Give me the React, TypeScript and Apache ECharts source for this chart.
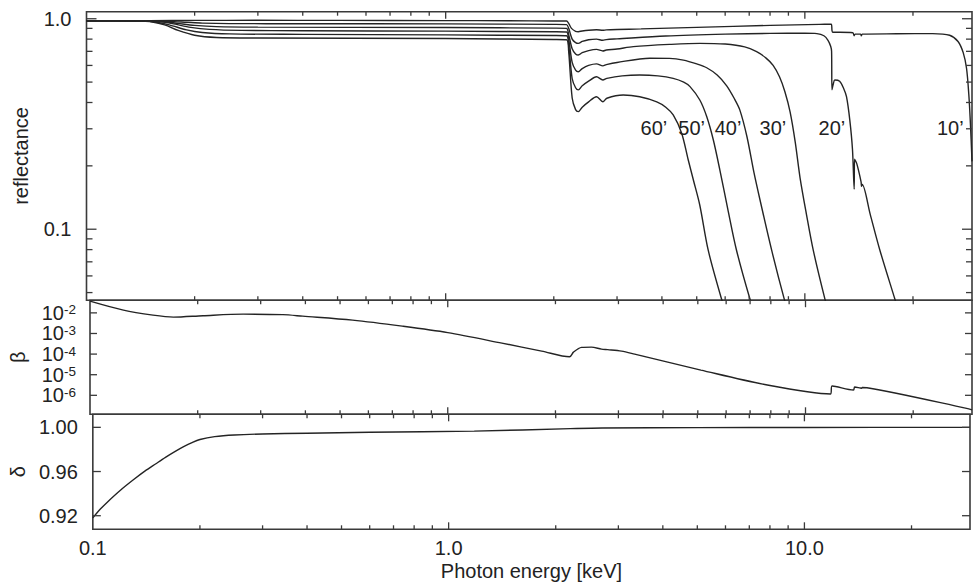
import React, { useEffect, useRef } from 'react';
import * as echarts from 'echarts';

const FONT = '"Liberation Sans", Arial, Helvetica, sans-serif';
const INK = '#222222';
const FRAME = '#3a3a3a';
const CURVE = '#242424';

// ---------- x axis (photon energy, keV) ----------
const xMin = 0.1;
const xMax = 29.2;
const xLabelValues = [0.1, 1, 10];
const xLabelTexts = ['0.1', '1.0', '10.0'];
const xMinorTicks = [0.2, 0.3, 0.4, 0.5, 0.6, 0.7, 0.8, 0.9, 2, 3, 4, 5, 6, 7, 8, 9, 20];
const xMajorTicks = [1, 10];

// ---------- reflectance panel ----------
const reflMin = 0.046;
const reflMax = 1.08;
const reflLabelValues = [0.1, 1];
const reflLabelTexts = ['0.1', '1.0'];
const reflMinorTicks = [0.05, 0.06, 0.07, 0.08, 0.09, 0.2, 0.3, 0.4, 0.5, 0.6, 0.7, 0.8, 0.9];
const reflMajorTicks = [0.1, 1];

const refl10 = [
  [0.1, 0.979], [0.15, 0.98], [0.2, 0.982], [0.3, 0.983], [0.5, 0.982], [1.0, 0.98], [1.5, 0.978],
  [2.0, 0.976], [2.17, 0.975], [2.2, 0.95], [2.24, 0.9], [2.3, 0.872], [2.34, 0.868], [2.4, 0.875],
  [2.5, 0.882], [2.63, 0.886], [2.74, 0.881], [2.8, 0.885], [3.0, 0.889], [3.5, 0.895], [5.0, 0.91],
  [8.0, 0.93], [11.0, 0.94], [11.85, 0.942], [11.9, 0.88], [11.95, 0.862], [12.5, 0.862], [13.6, 0.858],
  [13.72, 0.83], [13.8, 0.845], [14.3, 0.845], [14.36, 0.83], [14.45, 0.845], [18, 0.848], [22.7, 0.85],
  [25.3, 0.835], [26.7, 0.78], [27.6, 0.69], [28.2, 0.58], [28.6, 0.44], [28.9, 0.32], [29.2, 0.21],
];
const refl20 = [
  [0.1, 0.978], [0.15, 0.977], [0.17, 0.972], [0.19, 0.962], [0.21, 0.953], [0.25, 0.948], [0.4, 0.947],
  [1.0, 0.945], [2.0, 0.94], [2.17, 0.938], [2.2, 0.9], [2.25, 0.8], [2.3, 0.77], [2.34, 0.764], [2.4, 0.78],
  [2.5, 0.795], [2.63, 0.8], [2.74, 0.79], [2.8, 0.796], [3.0, 0.802], [4.1, 0.828], [6.0, 0.845], [8.0, 0.852],
  [10.0, 0.854], [10.8, 0.85], [11.3, 0.83], [11.6, 0.79], [11.8, 0.74], [11.87, 0.7], [11.9, 0.46], [12.0, 0.49],
  [12.12, 0.512], [12.5, 0.505], [12.8, 0.47], [13.06, 0.426], [13.34, 0.33], [13.57, 0.24], [13.72, 0.155],
  [13.75, 0.215], [13.95, 0.205], [14.34, 0.168], [14.38, 0.16], [14.45, 0.163], [15.2, 0.118], [16.17, 0.0797],
  [17.8, 0.0467], [18.3, 0.04],
];
const refl30 = [
  [0.1, 0.978], [0.15, 0.976], [0.165, 0.968], [0.18, 0.95], [0.2, 0.93], [0.23, 0.917], [0.3, 0.912],
  [1.0, 0.908], [2.0, 0.902], [2.17, 0.9], [2.2, 0.84], [2.25, 0.72], [2.3, 0.68], [2.34, 0.672], [2.4, 0.69],
  [2.5, 0.706], [2.63, 0.715], [2.74, 0.703], [2.8, 0.71], [3.0, 0.718], [3.33, 0.737], [4.2, 0.755], [5.1, 0.764],
  [6.0, 0.758], [6.8, 0.735], [7.34, 0.697], [7.8, 0.65], [8.16, 0.6], [8.5, 0.53], [8.8, 0.45], [9.1, 0.36],
  [9.4, 0.26], [9.7, 0.175], [10.1, 0.118], [10.55, 0.0797], [11.37, 0.0467], [11.6, 0.042],
];
const refl40 = [
  [0.1, 0.978], [0.15, 0.975], [0.16, 0.97], [0.175, 0.945], [0.195, 0.91], [0.22, 0.89], [0.27, 0.88],
  [0.4, 0.877], [1.0, 0.873], [2.0, 0.867], [2.17, 0.865], [2.2, 0.8], [2.25, 0.62], [2.3, 0.57], [2.34, 0.56],
  [2.4, 0.58], [2.5, 0.6], [2.63, 0.61], [2.74, 0.597], [2.8, 0.605], [3.0, 0.62], [3.7, 0.649], [4.2, 0.648],
  [4.59, 0.636], [5.0, 0.61], [5.33, 0.585], [5.7, 0.54], [6.06, 0.48], [6.35, 0.42], [6.59, 0.369], [6.9, 0.275],
  [7.22, 0.185], [7.5, 0.138], [8.08, 0.0797], [8.76, 0.0467], [8.95, 0.042],
];
const refl50 = [
  [0.1, 0.978], [0.145, 0.975], [0.155, 0.965], [0.17, 0.935], [0.19, 0.885], [0.21, 0.86], [0.25, 0.847],
  [0.4, 0.843], [1.0, 0.838], [2.0, 0.832], [2.17, 0.83], [2.2, 0.75], [2.25, 0.52], [2.3, 0.47], [2.34, 0.459],
  [2.4, 0.48], [2.5, 0.505], [2.63, 0.53], [2.74, 0.512], [2.81, 0.521], [3.1, 0.535], [3.47, 0.54], [3.9, 0.535],
  [4.3, 0.521], [4.6, 0.5], [4.79, 0.476], [5.1, 0.411], [5.33, 0.343], [5.56, 0.266], [5.8, 0.191], [6.1, 0.125],
  [6.45, 0.0797], [7.03, 0.0467], [7.2, 0.042],
];
const refl60 = [
  [0.1, 0.978], [0.14, 0.976], [0.15, 0.97], [0.165, 0.935], [0.18, 0.88], [0.2, 0.835], [0.23, 0.815],
  [0.3, 0.81], [1.0, 0.805], [2.0, 0.797], [2.17, 0.795], [2.2, 0.7], [2.25, 0.42], [2.3, 0.37], [2.34, 0.362],
  [2.4, 0.38], [2.5, 0.403], [2.63, 0.426], [2.74, 0.403], [2.81, 0.419], [3.12, 0.434], [3.47, 0.426],
  [3.87, 0.403], [4.1, 0.38], [4.3, 0.349], [4.54, 0.286], [4.73, 0.215], [4.9, 0.17], [5.1, 0.13],
  [5.38, 0.0797], [5.86, 0.0467], [6.0, 0.042],
];
const reflCurves = [refl10, refl20, refl30, refl40, refl50, refl60];
const curveLabels = ['10’', '20’', '30’', '40’', '50’', '60’'];
const curveLabelAnchors = [[25.4, 0.303], [11.89, 0.303], [8.15, 0.303], [6.11, 0.303], [4.84, 0.303], [3.8, 0.303]];

// ---------- beta panel ----------
const betaMin = 1.2e-7;
const betaMax = 0.0412;
const betaTickExponents = [-2, -3, -4, -5, -6];
const betaMajorTicks = [1e-2, 1e-3, 1e-4, 1e-5, 1e-6];
const betaValues = [
  [0.1, 0.0369], [0.124, 0.0135], [0.15, 0.00774], [0.171, 0.0062], [0.207, 0.0073], [0.268, 0.00865],
  [0.346, 0.00818], [0.393, 0.00692], [0.542, 0.00443], [0.746, 0.00227], [1.0, 0.0011], [1.417, 0.000341],
  [1.83, 0.00014], [2.19, 0.000074], [2.246, 0.000125], [2.366, 0.000211], [2.52, 0.000218], [2.69, 0.000175],
  [2.8, 0.000165], [3.06, 0.00014], [3.33, 0.0001], [5.1, 0.0000168], [7.82, 0.00000316], [11.74, 0.00000116],
  [11.87, 0.00000282], [13.62, 0.00000181], [13.72, 0.00000252], [14.23, 0.00000226], [14.35, 0.00000222],
  [14.41, 0.00000239], [14.85, 0.00000233], [28.2, 0.000000234], [29.2, 0.000000195],
];

// ---------- delta panel ----------
const deltaMin = 0.9077;
const deltaMax = 1.0118;
const deltaTickValues = [0.92, 0.96, 1.0];
const deltaValues = [
  [0.1, 0.918], [0.105, 0.926], [0.11, 0.9325], [0.12, 0.9435], [0.13, 0.9525], [0.14, 0.9603],
  [0.15, 0.9668], [0.16, 0.9728], [0.17, 0.978], [0.18, 0.9825], [0.19, 0.9862], [0.2, 0.989],
  [0.22, 0.9916], [0.25, 0.9931], [0.3, 0.994], [0.4, 0.9947], [0.6, 0.9955], [1.18, 0.9966],
  [2.2, 0.9988], [2.7, 0.9994], [5, 0.9997], [10, 0.9999], [29.2, 1.0],
];

// ---------- layout ----------
const GRID_LEFT = 86.5;
const GRID_RIGHT = 1;
const gridBoxes = [
  { top: 11.7, height: 288.5 },
  { top: 300.2, height: 114.1 },
  { top: 414.3, height: 115 },
];

const nearLog = (a: number, b: number) => Math.abs(Math.log10(a) - Math.log10(b)) < 1e-6;
const textStyle = { fontSize: 20, fontFamily: FONT, color: INK };

function tickSeries(
  gridIndex: number,
  yRef: number,
  yMinor: number[],
  yMajor: number[],
  lens: { xMinor: number; xMajor: number; yMinor: number; yMajor: number }
) {
  const data: number[][] = [
    ...xMinorTicks.map((v) => [v, yRef, 0, 0]),
    ...xMajorTicks.map((v) => [v, yRef, 0, 1]),
    ...yMinor.map((v) => [1, v, 1, 0]),
    ...yMajor.map((v) => [1, v, 1, 1]),
  ];
  return {
    type: 'custom',
    xAxisIndex: gridIndex,
    yAxisIndex: gridIndex,
    silent: true,
    z: 5,
    data,
    renderItem: (params: any, api: any) => {
      const cs = params.coordSys;
      const kind = api.value(2);
      const major = api.value(3) === 1;
      const p = api.coord([api.value(0), api.value(1)]);
      const style = { stroke: FRAME, lineWidth: 1.3 };
      if (kind === 0) {
        const len = major ? lens.xMajor : lens.xMinor;
        const yb = cs.y + cs.height;
        const yt = cs.y;
        return {
          type: 'group',
          children: [
            { type: 'line', shape: { x1: p[0], y1: yb, x2: p[0], y2: yb - len }, style },
            { type: 'line', shape: { x1: p[0], y1: yt, x2: p[0], y2: yt + len }, style },
          ],
        };
      }
      const len = major ? lens.yMajor : lens.yMinor;
      const xl = cs.x;
      const xr = cs.x + cs.width;
      return {
        type: 'group',
        children: [
          { type: 'line', shape: { x1: xl, y1: p[1], x2: xl + len, y2: p[1] }, style },
          { type: 'line', shape: { x1: xr, y1: p[1], x2: xr - len, y2: p[1] }, style },
        ],
      };
    },
  };
}

function buildOption(): any {
  const grid = gridBoxes.map((g) => ({
    left: GRID_LEFT,
    right: GRID_RIGHT,
    top: g.top,
    height: g.height,
    show: true,
    borderColor: FRAME,
    borderWidth: 1.6,
    backgroundColor: 'transparent',
  }));

  const xAxis = [0, 1, 2].map((i) => ({
    type: 'log',
    logBase: 10,
    gridIndex: i,
    min: xMin,
    max: xMax,
    axisLine: { show: false },
    axisTick: { show: false },
    splitLine: { show: false },
    axisLabel:
      i === 2
        ? {
            show: true,
            margin: 9,
            ...textStyle,
            formatter: (v: number) => {
              const k = xLabelValues.findIndex((t) => nearLog(v, t));
              return k >= 0 ? xLabelTexts[k] : '';
            },
          }
        : { show: false },
    name: i === 2 ? 'Photon energy [keV]' : '',
    nameLocation: 'middle',
    nameGap: 32,
    nameTextStyle: textStyle,
  }));

  const yAxis = [
    {
      type: 'log',
      logBase: 10,
      gridIndex: 0,
      min: reflMin,
      max: reflMax,
      axisLine: { show: false },
      axisTick: { show: false },
      splitLine: { show: false },
      axisLabel: {
        margin: 15,
        ...textStyle,
        formatter: (v: number) => {
          const k = reflLabelValues.findIndex((t) => nearLog(v, t));
          return k >= 0 ? reflLabelTexts[k] : '';
        },
      },
      name: 'reflectance',
      nameLocation: 'middle',
      nameRotate: 90,
      nameGap: 56,
      nameTextStyle: textStyle,
    },
    {
      type: 'log',
      logBase: 10,
      gridIndex: 1,
      min: betaMin,
      max: betaMax,
      axisLine: { show: false },
      axisTick: { show: false },
      splitLine: { show: false },
      axisLabel: {
        margin: 14,
        ...textStyle,
        formatter: (v: number) => {
          const e = Math.log10(v);
          const r = Math.round(e);
          if (Math.abs(e - r) > 1e-6 || betaTickExponents.indexOf(r) < 0) return '';
          return `{b|10}{s|${r}}`;
        },
        rich: {
          b: { fontSize: 20, fontFamily: FONT, color: INK, lineHeight: 20 },
          s: { fontSize: 13.5, fontFamily: FONT, color: INK, lineHeight: 13, verticalAlign: 'top' },
        },
      },
      name: 'β',
      nameLocation: 'middle',
      nameRotate: 90,
      nameGap: 62,
      nameTextStyle: textStyle,
    },
    {
      type: 'value',
      gridIndex: 2,
      min: deltaMin,
      max: deltaMax,
      axisLine: { show: false },
      axisTick: { show: false },
      splitLine: { show: false },
      axisLabel: {
        margin: 15,
        ...textStyle,
        formatter: (v: number) => {
          const k = deltaTickValues.findIndex((t) => Math.abs(v - t) < 1e-6);
          return k >= 0 ? deltaTickValues[k].toFixed(2) : '';
        },
      },
      name: 'δ',
      nameLocation: 'middle',
      nameRotate: 90,
      nameGap: 62,
      nameTextStyle: textStyle,
    },
  ];

  const lineBase = {
    type: 'line',
    showSymbol: false,
    symbol: 'none',
    silent: true,
    clip: true,
    lineStyle: { color: CURVE, width: 1.4 },
  };

  const series: any[] = [
    ...reflCurves.map((d, i) => ({
      ...lineBase,
      smooth: 0.3,
      name: curveLabels[i],
      xAxisIndex: 0,
      yAxisIndex: 0,
      data: d,
    })),
    { ...lineBase, smooth: 0.3, name: 'beta', xAxisIndex: 1, yAxisIndex: 1, data: betaValues },
    { ...lineBase, smooth: 0.3, name: 'delta', xAxisIndex: 2, yAxisIndex: 2, data: deltaValues },
    {
      type: 'scatter',
      xAxisIndex: 0,
      yAxisIndex: 0,
      symbolSize: 0,
      silent: true,
      itemStyle: { opacity: 1 },
      data: curveLabels.map((t, i) => ({ name: t, value: curveLabelAnchors[i] })),
      label: {
        show: true,
        position: 'inside',
        formatter: '{b}',
        ...textStyle,
        opacity: 1,
        textBorderWidth: 0,
        textShadowBlur: 0,
      },
    },
    tickSeries(0, 0.5, reflMinorTicks, reflMajorTicks, { xMinor: 4, xMajor: 7, yMinor: 6, yMajor: 10 }),
    tickSeries(1, 1e-4, [], betaMajorTicks, { xMinor: 4, xMajor: 7, yMinor: 5, yMajor: 7 }),
    tickSeries(2, 0.95, [], deltaTickValues, { xMinor: 4, xMajor: 7, yMinor: 5, yMajor: 8 }),
  ];

  return {
    animation: false,
    backgroundColor: '#ffffff',
    grid,
    xAxis,
    yAxis,
    series,
  };
}

export default function App() {
  const ref = useRef<HTMLDivElement>(null);
  useEffect(() => {
    if (!ref.current) return;
    const chart = echarts.init(ref.current, null, { renderer: 'svg' });
    chart.setOption(buildOption());
    return () => chart.dispose();
  }, []);
  return (
    <div
      ref={ref}
      style={{ position: 'fixed', left: 0, top: 0, width: 973, height: 585, background: '#ffffff' }}
    />
  );
}
